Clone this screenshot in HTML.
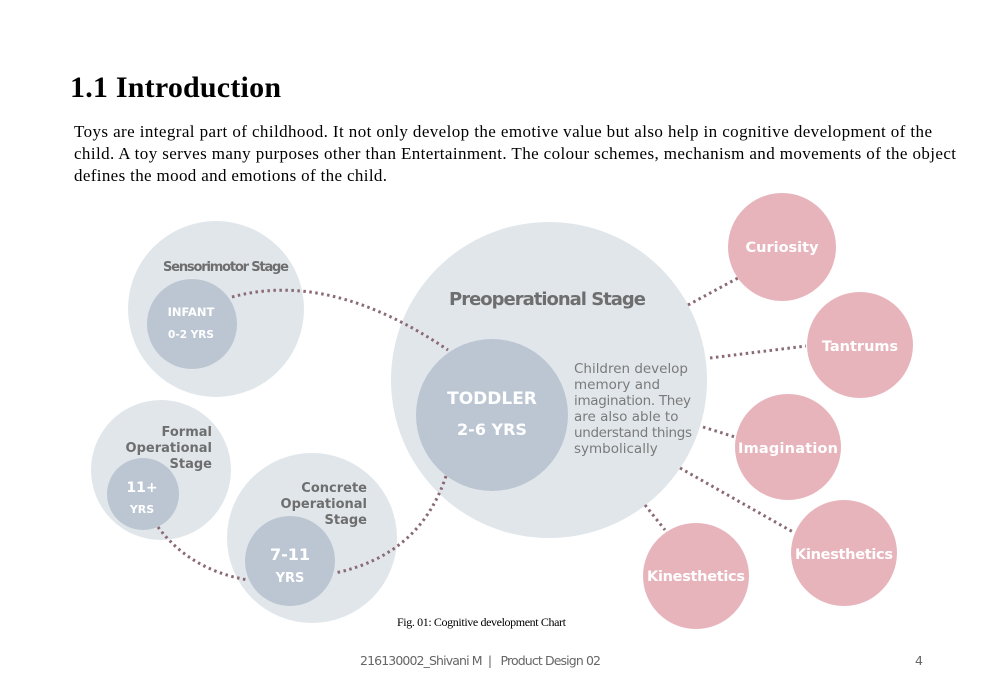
<!DOCTYPE html>
<html><head><meta charset="utf-8"><style>
html,body{margin:0;padding:0;background:#fff;}
svg{display:block;}
.d{font-family:"DejaVu Sans","Liberation Sans",sans-serif;font-weight:bold;}
</style></head><body>
<svg width="1000" height="692" viewBox="0 0 1000 692" xmlns="http://www.w3.org/2000/svg">
<text x="70" y="97" font-family="Liberation Serif,serif" font-weight="bold" font-size="30" textLength="211" fill="#000">1.1 Introduction</text>
<g font-family="Liberation Serif,serif" font-size="17" fill="#000">
<text x="74" y="137" textLength="858">Toys are integral part of childhood. It not only  develop the emotive value but also help in cognitive development of the</text>
<text x="74" y="159" textLength="882">child. A toy serves many purposes other than Entertainment. The colour schemes, mechanism and movements of the object</text>
<text x="74" y="181" textLength="313">defines the mood and emotions of the child.</text>
</g>
<g fill="#e1e6ea">
<circle cx="216" cy="309" r="88"/>
<circle cx="161" cy="470" r="70"/>
<circle cx="312" cy="538" r="85"/>
<circle cx="549" cy="380" r="158"/>
</g>
<g fill="#bcc6d3">
<circle cx="192" cy="324" r="45"/>
<circle cx="143" cy="494" r="36"/>
<circle cx="290" cy="561" r="45"/>
<circle cx="492" cy="415" r="76"/>
</g>
<g fill="#e8b4bc">
<circle cx="782" cy="247" r="54"/>
<circle cx="860" cy="345" r="53"/>
<circle cx="788" cy="447" r="53"/>
<circle cx="844" cy="553" r="53"/>
<circle cx="696" cy="576" r="53"/>
</g>
<g fill="none" stroke="#8a6a74" stroke-width="3" stroke-dasharray="2.5 3.5">
<path d="M232 297 Q330 270 448 350"/>
<path d="M446 476 Q420 555 335 573"/>
<path d="M158 527 Q190 570 248 580"/>
<path d="M688 305 L738 278"/>
<path d="M710 358 L806 346"/>
<path d="M703 427 L735 437"/>
<path d="M680 468 L793 532"/>
<path d="M645 505 L665 530"/>
</g>
<g class="d" fill="#6e6e6e" font-size="13">
<text x="163" y="271" textLength="126">Sensorimotor Stage</text>
<text x="212" y="436" text-anchor="end">Formal</text>
<text x="212" y="452" text-anchor="end">Operational</text>
<text x="212" y="468" text-anchor="end">Stage</text>
<text x="367" y="492" text-anchor="end">Concrete</text>
<text x="367" y="508" text-anchor="end">Operational</text>
<text x="367" y="524" text-anchor="end">Stage</text>
<text x="449" y="305" font-size="18" textLength="197">Preoperational Stage</text>
</g>
<g font-family="DejaVu Sans,Liberation Sans,sans-serif" fill="#7a7a7a" font-size="13.5">
<text x="574" y="373" textLength="114">Children develop</text>
<text x="574" y="389">memory and</text>
<text x="574" y="405" textLength="117">imagination. They</text>
<text x="574" y="421">are also able to</text>
<text x="574" y="437" textLength="118">understand things</text>
<text x="574" y="453">symbolically</text>
</g>
<g class="d" fill="#fff" text-anchor="middle">
<text x="191" y="316" font-size="11.5">INFANT</text>
<text x="191" y="338" font-size="10.5">0-2 YRS</text>
<text x="142" y="492" font-size="14">11+</text>
<text x="142" y="513" font-size="11">YRS</text>
<text x="290" y="560" font-size="16">7-11</text>
<text x="290" y="582" font-size="13">YRS</text>
<text x="492" y="404" font-size="17">TODDLER</text>
<text x="492" y="435" font-size="16">2-6 YRS</text>
<g font-size="14.5">
<text x="782" y="252">Curiosity</text>
<text x="860" y="351">Tantrums</text>
<text x="788" y="453" textLength="100">Imagination</text>
<text x="844" y="559" textLength="98">Kinesthetics</text>
<text x="696" y="581" textLength="98">Kinesthetics</text>
</g>
</g>
<text x="397" y="626" font-family="Liberation Serif,serif" font-size="12" textLength="169" fill="#000">Fig. 01: Cognitive development Chart</text>
<text x="360" y="665" font-family="DejaVu Sans,Liberation Sans,sans-serif" font-size="12.5" textLength="241" fill="#666">216130002_Shivani M&#160;&#160;|&#160;&#160;&#160;Product Design 02</text>
<text x="915" y="665" font-family="DejaVu Sans,Liberation Sans,sans-serif" font-size="12.5" fill="#666">4</text>
</svg>
</body></html>
